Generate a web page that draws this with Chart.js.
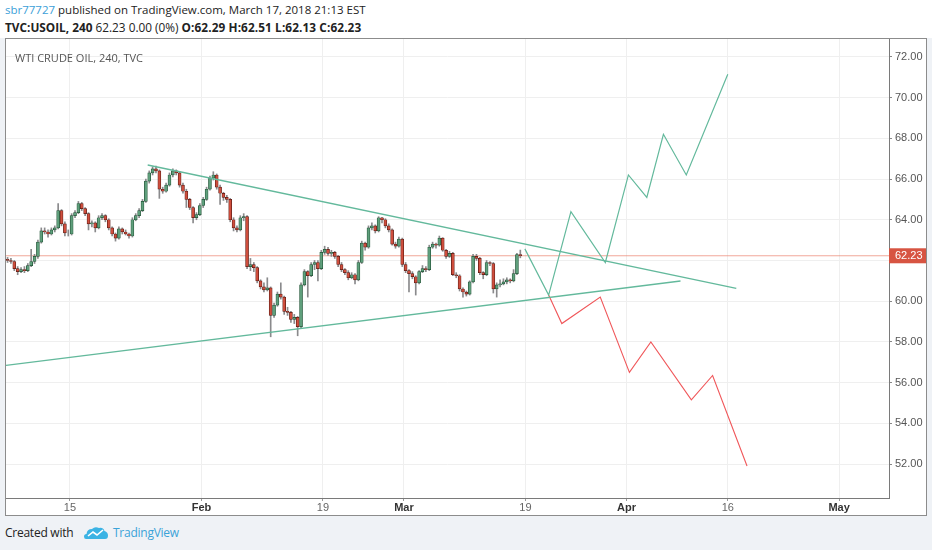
<!DOCTYPE html>
<html>
<head>
<meta charset="utf-8">
<script src="https://cdn.jsdelivr.net/npm/chart.js@4.4.1/dist/chart.umd.min.js"></script>
<style>
  html, body { margin: 0; padding: 0; }
  body { width: 932px; height: 550px; background: #eff2f6; position: relative; overflow: hidden; font-family: "Open Sans", sans-serif; }
  #head { position: absolute; left: 0; top: 0; width: 932px; height: 38px; background: #fff; }
  .hl { position: absolute; left: 5px; font-size: 11.5px; line-height: 14px; color: #222; white-space: nowrap; }
  #l1 { top: 3px; }
  #l2 { top: 20px; font-size: 11.8px; }
  #l1 .user { color: #3c9fd8; }
  #l2 b { font-weight: 700; }
  #l2 .ohlc { font-weight: 700; letter-spacing: 0.1px; }
  #frame { position: absolute; left: 5px; top: 38px; width: 920px; height: 476px; border: 1px solid #8c8c8c; background: #fff; }
  #frame canvas { position: absolute; left: 0; top: 0; }
  #title { position: absolute; left: 9px; top: 11px; font-size: 11px; color: #555; white-space: nowrap; }
  #foot { position: absolute; left: 5px; top: 525px; height: 16px; font-size: 12px; line-height: 16px; color: #222; white-space: nowrap; letter-spacing: -0.25px; }
  #foot svg { position: absolute; left: 79px; top: 1px; }
  #foot .tv { position: absolute; left: 108px; color: #3ba3d8; }
</style>
</head>
<body>
<div id="head">
  <div class="hl" id="l1"><span class="user">sbr77727</span> published on TradingView.com, March 17, 2018 21:13 EST</div>
  <div class="hl" id="l2"><b>TVC:USOIL, 240</b> 62.23 0.00 (0%) <span class="ohlc">O:62.29 H:62.51 L:62.13 C:62.23</span></div>
</div>
<div id="frame">
  <canvas id="oilChart" width="920" height="476"></canvas>
  <div id="title">WTI CRUDE OIL, 240, TVC</div>
</div>
<div id="foot">Created with
  <svg width="24" height="14" viewBox="0 0 24 14"><path d="M2 13 Q0 13 0 10.5 Q0 8 2.5 8 Q3 3 8 3 Q11 0 15 2 Q19 1 20.5 5 Q24 6 24 9.5 Q24 13 21 13 Z" fill="#3bb3e4"/><path d="M4 10 L9 6 L13 9 L19 4" stroke="#fff" stroke-width="1.6" fill="none"/></svg>
  <span class="tv">TradingView</span>
</div>

<script>
// 4h candles, three per trading day, first one on the Friday before Jan 8
const opens = [
  62.05, 62.0, 61.95, 61.6, 61.45, 61.55, 61.5, 61.75, 61.95, 62.2,
  62.9, 63.45, 63.4, 63.3, 63.5, 63.6, 64.45, 63.8, 63.3, 63.3,
  64.2, 64.35, 64.8, 64.55, 64.3, 63.8, 63.85, 63.6, 64.1, 64.2,
  64.0, 63.6, 63.3, 63.1, 63.55, 63.4, 63.3, 63.2, 64.0, 64.2,
  64.45, 64.9, 65.9, 66.3, 66.5, 66.4, 65.5, 65.4, 65.7, 66.2,
  66.4, 66.3, 65.7, 65.4, 65.0, 64.6, 64.1, 64.25, 64.7, 65.0,
  65.5, 66.05, 66.2, 65.6, 65.3, 65.1, 65.0, 64.0, 63.6, 63.5,
  64.1, 64.15, 61.7, 61.8, 61.65, 61.0, 60.7, 60.55, 60.65, 59.3,
  59.8, 60.35, 60.2, 59.5, 59.45, 59.1, 59.2, 58.75, 60.8, 61.45,
  61.25, 61.8, 61.9, 61.6, 62.4, 62.55, 62.35, 62.4, 62.2, 61.8,
  61.55, 61.4, 61.15, 61.3, 61.05, 61.9, 62.85, 62.65, 63.6, 63.7,
  63.45, 64.1, 64.0, 63.7, 63.5, 62.8, 62.7, 63.05, 61.8, 61.5,
  61.35, 61.2, 60.9, 61.45, 61.6, 61.55, 62.65, 62.8, 62.75, 63.1,
  62.5, 62.2, 62.35, 61.3, 61.25, 60.6, 60.45, 60.35, 60.95, 62.2,
  62.1, 61.4, 61.3, 61.9, 61.85, 60.6, 60.8, 60.85, 60.95, 61.05,
  61.0, 61.35, 62.29
];
const highs = [
  62.15, 62.1, 62.0, 61.7, 61.65, 61.7, 61.85, 62.55, 62.3, 63.0,
  63.6, 63.6, 63.5, 63.6, 63.7, 64.8, 64.5, 63.9, 63.5, 64.3,
  64.45, 64.9, 64.85, 64.6, 64.35, 63.95, 63.9, 64.2, 64.3, 64.25,
  64.05, 63.65, 63.35, 63.65, 63.6, 63.5, 63.35, 64.1, 64.3, 64.55,
  65.0, 66.0, 66.4, 66.6, 66.64, 66.45, 65.6, 65.8, 66.3, 66.5,
  66.45, 66.35, 65.8, 65.5, 65.05, 64.65, 64.35, 64.8, 65.1, 65.6,
  66.15, 66.36, 66.25, 65.7, 65.35, 65.2, 65.05, 64.1, 63.7, 64.2,
  64.3, 64.2, 62.1, 61.9, 61.7, 61.05, 60.9, 61.15, 60.7, 59.9,
  60.45, 60.9, 60.25, 59.7, 59.5, 59.35, 59.25, 60.9, 61.55, 61.5,
  61.9, 62.0, 62.0, 62.5, 62.7, 62.65, 62.5, 62.45, 62.25, 61.9,
  61.6, 61.5, 61.4, 61.35, 62.0, 62.95, 62.9, 63.7, 63.85, 63.75,
  64.15, 64.12, 64.05, 63.8, 63.55, 62.9, 63.15, 63.1, 61.9, 61.55,
  61.45, 61.25, 61.5, 61.75, 61.7, 62.75, 62.9, 62.85, 63.2, 63.12,
  62.55, 62.45, 62.4, 61.4, 61.3, 60.65, 60.5, 61.0, 62.3, 62.3,
  62.15, 61.45, 62.0, 61.95, 61.9, 60.9, 61.05, 61.1, 61.15, 61.1,
  61.55, 62.35, 62.51
];
const lows = [
  61.9, 61.85, 61.5, 61.3, 61.4, 61.4, 61.45, 61.7, 61.85, 62.1,
  62.85, 63.3, 63.15, 63.25, 63.4, 63.55, 63.7, 63.2, 63.2, 63.25,
  64.1, 64.3, 64.45, 64.2, 63.5, 63.65, 63.4, 63.55, 64.0, 63.9,
  63.5, 63.2, 62.95, 63.05, 63.3, 63.25, 63.1, 63.15, 63.95, 64.1,
  64.4, 64.85, 65.8, 66.2, 66.3, 65.05, 65.3, 65.35, 65.65, 66.1,
  66.2, 65.6, 65.3, 64.6, 64.5, 63.85, 64.0, 64.2, 64.6, 64.95,
  65.45, 65.95, 65.5, 64.75, 64.95, 64.85, 63.9, 63.45, 63.4, 63.45,
  63.95, 61.6, 61.5, 61.45, 60.9, 60.6, 60.45, 60.5, 58.25, 59.2,
  59.75, 60.1, 59.35, 59.3, 58.95, 58.9, 58.3, 58.7, 60.75, 60.2,
  61.2, 61.55, 61.0, 61.55, 62.3, 62.25, 62.2, 62.1, 61.7, 61.45,
  61.3, 61.05, 61.1, 60.85, 61.0, 61.85, 62.5, 62.6, 63.5, 63.35,
  63.4, 63.85, 63.6, 63.4, 62.75, 62.6, 62.65, 61.7, 61.4, 60.45,
  61.1, 60.3, 60.85, 61.4, 61.45, 61.5, 62.6, 62.6, 62.7, 62.45,
  62.1, 62.15, 61.25, 61.15, 60.5, 60.2, 60.25, 60.3, 60.9, 62.0,
  61.3, 61.1, 61.25, 61.75, 60.4, 60.2, 60.7, 60.8, 60.85, 60.9,
  60.95, 61.3, 62.13
];
const closes = [
  62.0, 61.95, 61.6, 61.45, 61.55, 61.5, 61.75, 61.95, 62.2, 62.9,
  63.45, 63.4, 63.3, 63.5, 63.6, 64.45, 63.8, 63.35, 63.3, 64.2,
  64.35, 64.8, 64.55, 64.3, 63.8, 63.85, 63.6, 64.1, 64.2, 64.0,
  63.6, 63.3, 63.1, 63.55, 63.4, 63.3, 63.2, 64.0, 64.2, 64.45,
  64.9, 65.9, 66.3, 66.5, 66.4, 65.5, 65.4, 65.7, 66.2, 66.4,
  66.3, 65.7, 65.4, 65.0, 64.6, 64.1, 64.25, 64.7, 65.0, 65.5,
  66.05, 66.2, 65.6, 65.3, 65.1, 65.0, 64.0, 63.6, 63.5, 64.1,
  64.15, 61.7, 61.8, 61.65, 61.0, 60.7, 60.55, 60.65, 59.3, 59.8,
  60.35, 60.2, 59.5, 59.45, 59.1, 59.2, 58.75, 60.8, 61.45, 61.25,
  61.8, 61.9, 61.6, 62.4, 62.55, 62.35, 62.4, 62.2, 61.8, 61.55,
  61.4, 61.15, 61.3, 61.05, 61.9, 62.85, 62.65, 63.6, 63.7, 63.45,
  64.1, 64.0, 63.7, 63.5, 62.8, 62.7, 63.05, 61.8, 61.5, 61.35,
  61.2, 60.9, 61.45, 61.6, 61.55, 62.65, 62.8, 62.75, 63.1, 62.5,
  62.2, 62.35, 61.3, 61.25, 60.6, 60.45, 60.35, 60.95, 62.2, 62.1,
  61.4, 61.3, 61.9, 61.85, 60.6, 60.8, 60.85, 60.95, 61.05, 61.0,
  61.35, 62.29, 62.23
];

// drawings, x in trading days counted from Jan 15
const upperTrendDays = [7.68, 65.84];
const upperTrendPrices = [66.69, 60.63];
const lowerTrendDays = [-6.32, 60.33];
const lowerTrendPrices = [56.85, 60.99];
const bullPathDays = [44.95, 47.3, 49.5, 52.9, 55.18, 57.0, 58.64, 60.9, 65.0];
const bullPathPrices = [62.57, 60.3, 64.4, 61.9, 66.2, 65.1, 68.2, 66.2, 71.15];
const bearPathDays = [47.3, 48.6, 52.4, 55.28, 57.4, 61.4, 63.5, 66.9];
const bearPathPrices = [60.3, 58.9, 60.2, 56.5, 58.0, 55.15, 56.35, 51.9];

// time axis
const xTickDays = [0, 13, 25, 33, 45, 55, 65, 76];
const xTickLabels = ['15', 'Feb', '19', 'Mar', '19', 'Apr', '16', 'May'];
const monthLabels = ['Feb', 'Mar', 'Apr', 'May'];
const priceTicks = [52, 54, 56, 58, 60, 62, 64, 66, 68, 70, 72];

const X_MIN = -6.32, X_MAX = 80.93;
const Y_MIN = 50.33, Y_MAX = 72.88;
const FIRST_BAR = -6.1667, BAR_STEP = 1 / 3;
const lastPrice = closes[closes.length - 1];

const UP = '#5f9f7c', DOWN = '#cf4e3d';
const UP_EDGE = '#225437', DOWN_EDGE = '#5b1a13';
const AXIS_FONT = '"Liberation Sans", Arial, sans-serif';

const barX = i => FIRST_BAR + i * BAR_STEP;
const isUp = i => closes[i] >= opens[i];
const pts = (xs, ys) => xs.map((x, i) => ({ x: x, y: ys[i] }));
const isMonthTick = ctx => !!ctx.tick && monthLabels.includes(xTickLabels[xTickDays.indexOf(ctx.tick.value)]);

const lastPriceTag = {
  id: 'lastPriceTag',
  afterDraw(chart) {
    const ys = chart.scales.y;
    const ctx = chart.ctx;
    const py = ys.getPixelForValue(lastPrice);
    ctx.save();
    ctx.fillStyle = '#d75442';
    ctx.fillRect(ys.left, py - 7.5, ys.width, 15);
    ctx.fillStyle = '#fff';
    ctx.font = '11px ' + AXIS_FONT;
    ctx.textBaseline = 'middle';
    ctx.fillText(lastPrice.toFixed(2), ys.left + 6, py + 0.5);
    ctx.restore();
  }
};

new Chart(document.getElementById('oilChart'), {
  type: 'bar',
  data: {
    datasets: [
      {
        type: 'line',
        data: pts([X_MIN, X_MAX], [lastPrice, lastPrice]),
        borderColor: 'rgba(235,130,110,0.7)',
        borderWidth: 1,
        pointRadius: 0,
        order: 5
      },
      {
        data: lows.map((l, i) => ({ x: barX(i), y: [l, highs[i]] })),
        backgroundColor: '#8a8a8c',
        barThickness: 1,
        grouped: false,
        order: 4
      },
      {
        data: opens.map((o, i) => ({ x: barX(i), y: [o, closes[i]] })),
        backgroundColor: ctx => isUp(ctx.dataIndex) ? UP : DOWN,
        borderColor: ctx => isUp(ctx.dataIndex) ? UP_EDGE : DOWN_EDGE,
        borderWidth: 0.7,
        borderSkipped: false,
        barThickness: 3,
        grouped: false,
        order: 3
      },
      {
        type: 'line',
        data: pts(upperTrendDays, upperTrendPrices),
        borderColor: '#63b99c',
        borderWidth: 1.3,
        pointRadius: 0,
        order: 0
      },
      {
        type: 'line',
        data: pts(lowerTrendDays, lowerTrendPrices),
        borderColor: '#63b99c',
        borderWidth: 1.3,
        pointRadius: 0,
        order: 0
      },
      {
        type: 'line',
        data: pts(bullPathDays, bullPathPrices),
        borderColor: '#63b99c',
        borderWidth: 1.2,
        pointRadius: 0,
        order: 0
      },
      {
        type: 'line',
        data: pts(bearPathDays, bearPathPrices),
        borderColor: '#f0575a',
        borderWidth: 1.1,
        pointRadius: 0,
        order: 0
      }
    ]
  },
  options: {
    responsive: false,
    animation: false,
    layout: { padding: 0 },
    plugins: {
      legend: { display: false },
      tooltip: { enabled: false }
    },
    scales: {
      x: {
        type: 'linear',
        min: X_MIN,
        max: X_MAX,
        offset: false,
        grid: { color: '#efefef', offset: false, tickLength: 3, tickColor: '#999' },
        border: { color: '#7a7a7a' },
        afterBuildTicks: s => { s.ticks = xTickDays.map(v => ({ value: v })); },
        afterFit: s => { s.height = 17; s.paddingLeft = 0; s.paddingRight = 0; },
        ticks: {
          autoSkip: false,
          maxRotation: 0,
          padding: 0,
          color: ctx => isMonthTick(ctx) ? '#333' : '#666',
          font: ctx => ({ family: AXIS_FONT, size: 11, weight: isMonthTick(ctx) ? 'bold' : 'normal' }),
          callback: v => xTickLabels[xTickDays.indexOf(v)]
        }
      },
      y: {
        type: 'linear',
        position: 'right',
        min: Y_MIN,
        max: Y_MAX,
        grid: { color: '#efefef', tickLength: 3, tickColor: '#888' },
        border: { color: '#7a7a7a' },
        afterBuildTicks: s => { s.ticks = priceTicks.map(v => ({ value: v })); },
        afterFit: s => { s.width = 37; s.paddingTop = 0; s.paddingBottom = 0; },
        ticks: {
          padding: 3,
          color: '#555',
          font: { family: AXIS_FONT, size: 11 },
          callback: v => v.toFixed(2)
        }
      }
    }
  },
  plugins: [lastPriceTag]
});
</script>
</body>
</html>
